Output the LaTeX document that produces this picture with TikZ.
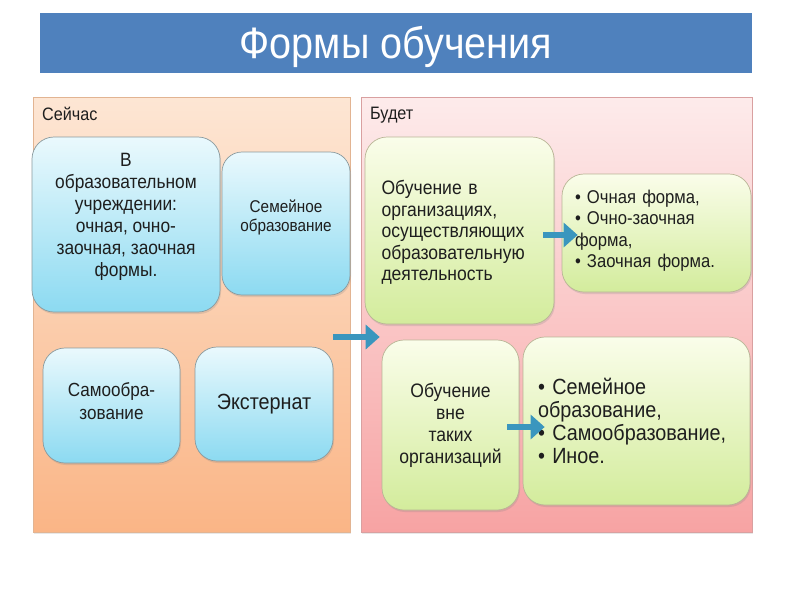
\documentclass[tikz,border=0pt]{standalone}
\usepackage{fontspec}
\setmainfont{Liberation Sans}[FakeStretch=0.9]
\usetikzlibrary{arrows.meta,shadows}
\definecolor{titlebg}{HTML}{4F81BD}
\definecolor{nowtop}{HTML}{FDE6D4}
\definecolor{nowbot}{HTML}{FAB586}
\definecolor{nowbd}{HTML}{E2B492}
\definecolor{futtop}{HTML}{FDEBEB}
\definecolor{futbot}{HTML}{F7A3A3}
\definecolor{futbd}{HTML}{D9A0A0}
\definecolor{bluetop}{HTML}{EAF9FD}
\definecolor{bluebot}{HTML}{8CDAF1}
\definecolor{bluebd}{HTML}{8A9A9E}
\definecolor{greentop}{HTML}{FAFDEA}
\definecolor{greenbot}{HTML}{D3EC9C}
\definecolor{greenbd}{HTML}{B9B596}
\definecolor{arrowc}{HTML}{3A96BE}
\definecolor{textc}{HTML}{1E1E1E}
\tikzset{
  panel/.style={rectangle, draw=#1, line width=0.6pt, inner sep=0pt,
    drop shadow={opacity=0.18, shadow xshift=1pt, shadow yshift=-1.5pt}},
  bluebox/.style={rectangle, rounded corners=22pt, draw=bluebd, line width=0.7pt,
    top color=bluetop, bottom color=bluebot, inner sep=0pt,
    drop shadow={opacity=0.22, shadow xshift=1pt, shadow yshift=-2pt}},
  greenbox/.style={rectangle, rounded corners=22pt, draw=greenbd, line width=0.7pt,
    top color=greentop, bottom color=greenbot, inner sep=0pt,
    drop shadow={opacity=0.22, shadow xshift=1pt, shadow yshift=-2pt}},
  txt/.style={text=textc, inner sep=0pt, align=center},
  ltxt/.style={text=textc, inner sep=0pt, align=left},
  conn/.style={draw=arrowc, line width=5.5pt, -{Triangle[length=14pt,width=24pt]}},
}
\begin{document}
\begin{tikzpicture}[x=1pt,y=-1pt]
\useasboundingbox[fill=white] (0,0) rectangle (800,600);
% title
\node[rectangle, fill=titlebg, minimum width=712pt, minimum height=60pt, inner sep=0pt,
  text height=40pt, text depth=9pt,
  text=white, font=\fontsize{44}{50}\selectfont] (title) at (396,43) {Формы обучения};
% panels
\node[panel=nowbd, top color=nowtop, bottom color=nowbot,
  minimum width=317pt, minimum height=435pt] (now) at (191.5,314.5) {};
\node[panel=futbd, top color=futtop, bottom color=futbot,
  minimum width=391pt, minimum height=435pt] (fut) at (556.5,314.5) {};
\node[txt, anchor=west, font=\fontsize{18}{21}\selectfont] (nowlbl) at (42,114) {Сейчас};
\node[txt, anchor=west, font=\fontsize{18}{21}\selectfont] (futlbl) at (370,115) {Будет};
% blue boxes
\node[bluebox, minimum width=188pt, minimum height=175pt] (b1) at (126,224.5) {};
\node[txt, font=\fontsize{19.3}{22}\selectfont] (b1t) at ([yshift=7.5pt]b1.center)
  {В\\образовательном\\учреждении:\\очная, очно-\\заочная, заочная\\формы.};
\node[bluebox, rounded corners=20pt, minimum width=128pt, minimum height=143pt] (b2) at (286,223.5) {};
\node[txt, font=\fontsize{17}{19.5}\selectfont] (b2t) at ([yshift=6pt]b2.center)
  {Семейное\\образование};
\node[bluebox, minimum width=137pt, minimum height=115pt] (b3) at (111.5,405.5) {};
\node[txt, font=\fontsize{19}{23}\selectfont] (b3t) at ([yshift=4pt]b3.center)
  {Самообра-\\зование};
\node[bluebox, minimum width=138pt, minimum height=114pt] (b4) at (264,404) {};
\node[txt, font=\fontsize{22}{25}\selectfont] (b4t) at (b4.center) {Экстернат};
% green boxes
\node[greenbox, minimum width=189pt, minimum height=187pt] (g1) at (459.5,230.5) {};
\node[ltxt, text width=156pt, font=\fontsize{19.5}{21.5}\selectfont] (g1t) at ([yshift=-2pt]g1.center)
  {Обучение в\\организациях,\\осуществляющих\\образовательную\\деятельность};
\node[greenbox, minimum width=189pt, minimum height=118pt] (g2) at (656.5,233) {};
\node[ltxt, text width=163pt, font=\fontsize{18.5}{21.5}\selectfont] (g2t) at ([yshift=2.5pt]g2.center)
  {• Очная форма,\\• Очно-заочная\\форма,\\• Заочная форма.};
\node[greenbox, minimum width=137pt, minimum height=170pt] (g3) at (450.5,425) {};
\node[txt, font=\fontsize{19.5}{22}\selectfont] (g3t) at (g3.center)
  {Обучение\\вне\\таких\\организаций};
\node[greenbox, minimum width=227pt, minimum height=168pt] (g4) at (636.5,421) {};
\node[ltxt, text width=197pt, font=\fontsize{22}{23}\selectfont] (g4t) at (g4.center)
  {• Семейное\\образование,\\• Самообразование,\\• Иное.};
% arrows
\coordinate (a1s) at ([xshift=-17pt,yshift=-22.5pt]now.east);
\coordinate (a1e) at ([xshift=19pt]fut.west);
\draw[conn] (a1s) -- (a1s -| a1e);
\coordinate (a2s) at ([xshift=-11pt,yshift=-4.5pt]g1.east);
\coordinate (a2e) at ([xshift=16pt]g2.west);
\draw[conn] (a2s) -- (a2s -| a2e);
\coordinate (a3s) at ([xshift=-12pt,yshift=-2pt]g3.east);
\coordinate (a3e) at ([xshift=22pt]g4.west);
\draw[conn] (a3s) -- (a3s -| a3e);
\end{tikzpicture}
\end{document}
